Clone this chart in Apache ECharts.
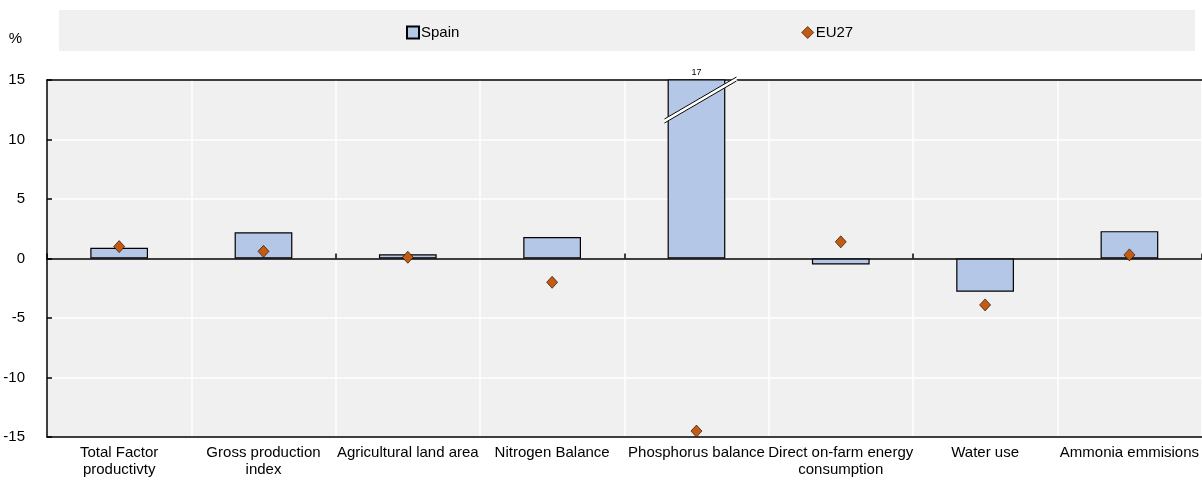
<!DOCTYPE html>
<html>
<head>
<meta charset="utf-8">
<style>
  html, body { margin: 0; padding: 0; background: #ffffff; }
  #chart { width: 1202px; height: 481px; }
</style>
<script src="https://cdn.jsdelivr.net/npm/echarts@6/dist/echarts.min.js"></script>
</head>
<body>
<div id="chart"></div>
<script>
// Indicator categories (change, %)
const categories = [
  'Total Factor\nproductivty',
  'Gross production\nindex',
  'Agricultural land area',
  'Nitrogen Balance',
  'Phosphorus balance',
  'Direct on-farm energy\nconsumption',
  'Water use',
  'Ammonia emmisions'
];
const spainValues = [0.9, 2.2, 0.35, 1.8, 17, -0.5, -2.8, 2.3];
const eu27Values = [1.0, 0.6, 0.1, -2.0, -14.5, 1.4, -3.9, 0.3];
const yTicks = { min: -15, max: 15, interval: 5 };
const axisMax = yTicks.max;

// Bars that run past the axis top get a break symbol and their value written above
const brokenBars = spainValues
  .map((v, i) => [i, v])
  .filter(d => d[1] > axisMax);

const FONT = "'Liberation Sans Narrow', 'Arial Narrow', 'Liberation Sans', Arial, sans-serif";

const chart = echarts.init(document.getElementById('chart'), null, { renderer: 'canvas' });

function renderBreak(params, api) {
  const idx = api.value(0);
  const top = api.coord([idx, axisMax]);
  const cx = top[0];
  const ty = top[1];
  const x1 = cx - 32, y1 = ty + 41;
  const x2 = cx + 40, y2 = ty - 1;
  const off = 2;
  return {
    type: 'group',
    children: [
      { type: 'line', shape: { x1: x1, y1: y1, x2: x2, y2: y2 },
        style: { stroke: '#ffffff', lineWidth: 4 } },
      { type: 'line', shape: { x1: x1, y1: y1 - off, x2: x2, y2: y2 - off },
        style: { stroke: '#000000', lineWidth: 1 } },
      { type: 'line', shape: { x1: x1, y1: y1 + off, x2: x2, y2: y2 + off },
        style: { stroke: '#000000', lineWidth: 1 } },
      { type: 'text', x: cx, y: ty - 3,
        style: { text: String(api.value(1)), fill: '#000000', font: '9px ' + FONT,
                 align: 'center', verticalAlign: 'bottom' } }
    ]
  };
}

const option = {
  animation: false,
  backgroundColor: '#ffffff',
  textStyle: { fontFamily: FONT },
  graphic: [
    { type: 'rect', left: 59, top: 10, shape: { width: 1136, height: 41 },
      style: { fill: '#f0f0f0' }, silent: true, z: -10 }
  ],
  legend: {
    left: 401, top: 20,
    itemGap: 342,
    itemWidth: 12, itemHeight: 12,
    textStyle: { fontFamily: FONT, fontSize: 15, color: '#000000', padding: [0, 0, 0, -3] },
    data: [
      { name: 'Spain', icon: 'rect' },
      { name: 'EU27', icon: 'diamond', itemStyle: { borderWidth: 0.6 } }
    ]
  },
  grid: {
    left: 47, right: 0, top: 80, bottom: 44,
    show: true, backgroundColor: '#f0f0f0', borderWidth: 0
  },
  xAxis: [
    {
      type: 'category', data: categories, position: 'bottom',
      axisLine: { onZero: false, lineStyle: { color: '#000000', width: 1.5 } },
      axisTick: { show: false },
      axisLabel: { fontFamily: FONT, fontSize: 15, color: '#000000', margin: 7, lineHeight: 17, interval: 0 },
      splitLine: { show: true, lineStyle: { color: '#ffffff', width: 1.5 } }
    },
    {
      type: 'category', data: categories, position: 'bottom',
      axisLine: { onZero: true, lineStyle: { color: '#000000', width: 1.5 } },
      axisTick: { show: true, inside: true, length: 5, lineStyle: { color: '#000000', width: 1.5 } },
      axisLabel: { show: false },
      splitLine: { show: false }
    },
    {
      type: 'category', data: categories, position: 'top',
      axisLine: { onZero: false, lineStyle: { color: '#000000', width: 1.5 } },
      axisTick: { show: false },
      axisLabel: { show: false },
      splitLine: { show: false }
    }
  ],
  yAxis: {
    type: 'value',
    min: yTicks.min, max: yTicks.max, interval: yTicks.interval,
    name: '%',
    nameLocation: 'end',
    nameGap: 34,
    nameTextStyle: { fontFamily: FONT, fontSize: 15, color: '#000000', align: 'right', padding: [0, 25, 0, 0] },
    axisLine: { show: true, lineStyle: { color: '#000000', width: 1.5 } },
    axisTick: { show: true, inside: true, length: 5, lineStyle: { color: '#000000', width: 1.5 } },
    axisLabel: { fontFamily: FONT, fontSize: 15, color: '#000000', margin: 22 },
    splitLine: { show: true, lineStyle: { color: '#ffffff', width: 1.5 } }
  },
  series: [
    {
      name: 'Spain', type: 'bar', data: spainValues,
      barWidth: '40%', clip: true,
      itemStyle: { color: '#b4c7e7', borderColor: '#000000', borderWidth: 1.2 },
      z: 2
    },
    {
      name: 'EU27', type: 'scatter', data: eu27Values,
      symbol: 'diamond', symbolSize: [11, 12],
      itemStyle: { color: '#c55a11', borderColor: '#000000', borderWidth: 0.6, opacity: 1 },
      z: 4
    },
    {
      name: 'break', type: 'custom', data: brokenBars,
      renderItem: renderBreak, clip: false, silent: true, z: 3
    }
  ]
};

chart.setOption(option);
</script>
</body>
</html>
